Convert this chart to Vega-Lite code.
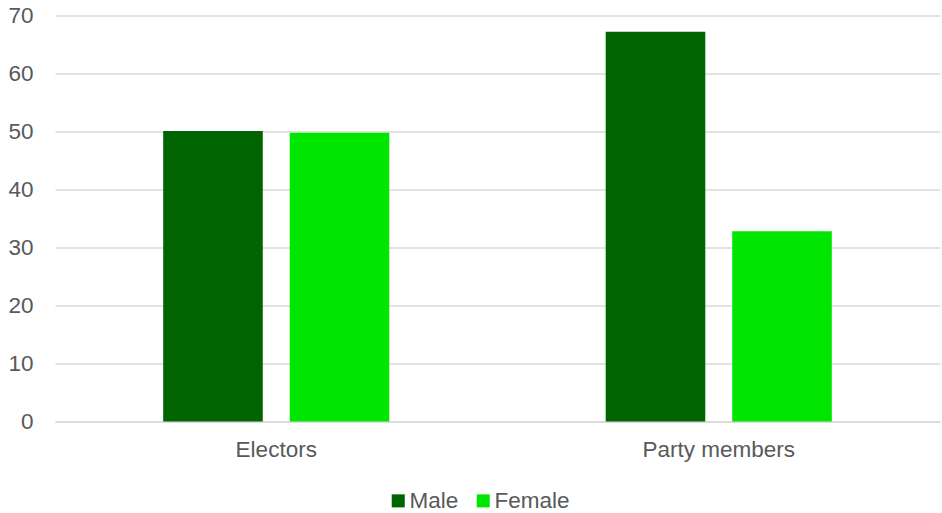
{
  "$schema": "https://vega.github.io/schema/vega-lite/v6.json",
  "width": 885,
  "height": 406,
  "autosize": {"type": "none"},
  "padding": {"left": 55, "top": 15.5, "right": 2, "bottom": 91.5},
  "background": "white",
  "config": {
    "font": "Liberation Sans",
    "view": {"stroke": null}
  },
  "data": {
    "values": [
      {"group": "Electors", "gender": "Male", "percent": 50.1},
      {"group": "Electors", "gender": "Female", "percent": 49.8},
      {"group": "Party members", "gender": "Male", "percent": 67.2},
      {"group": "Party members", "gender": "Female", "percent": 32.8}
    ]
  },
  "mark": {"type": "bar"},
  "encoding": {
    "x": {
      "field": "group",
      "type": "nominal",
      "sort": ["Electors", "Party members"],
      "scale": {"paddingInner": 0.489, "paddingOuter": 0.2445},
      "axis": {
        "title": null,
        "labelAngle": 0,
        "labelFontSize": 22.5,
        "labelColor": "#595959",
        "labelPadding": 17,
        "ticks": false,
        "domain": true,
        "domainColor": "#d9d9d9",
        "domainWidth": 1.5
      }
    },
    "xOffset": {
      "field": "gender",
      "type": "nominal",
      "sort": ["Male", "Female"],
      "scale": {"paddingInner": 0.213, "paddingOuter": 0}
    },
    "y": {
      "field": "percent",
      "type": "quantitative",
      "scale": {"domain": [0, 70], "nice": false},
      "axis": {
        "title": null,
        "values": [0, 10, 20, 30, 40, 50, 60, 70],
        "labelFontSize": 22.5,
        "labelColor": "#595959",
        "labelPadding": 22,
        "ticks": false,
        "domain": false,
        "gridColor": "#d9d9d9",
        "gridWidth": 1.5
      }
    },
    "color": {
      "field": "gender",
      "type": "nominal",
      "sort": ["Male", "Female"],
      "scale": {"domain": ["Male", "Female"], "range": ["#006400", "#00e600"]},
      "legend": {
        "title": null,
        "orient": "none",
        "direction": "horizontal",
        "legendX": 332,
        "legendY": 474,
        "symbolType": "square",
        "symbolSize": 170,
        "symbolStrokeWidth": 0,
        "labelFontSize": 22.5,
        "labelColor": "#595959",
        "labelOffset": 0,
        "columnPadding": 13
      }
    }
  }
}
